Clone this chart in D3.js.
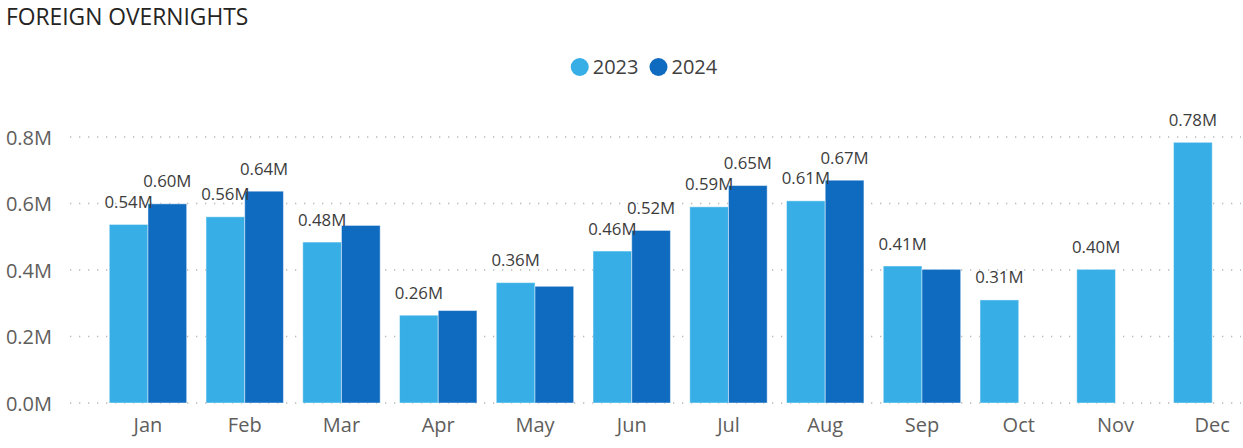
<!DOCTYPE html>
<html>
<head>
<meta charset="utf-8">
<script src="https://cdn.jsdelivr.net/npm/d3@7"></script>
<style>
  html, body { margin: 0; padding: 0; background: #fff; }
  svg { display: block; font-family: "Segoe UI", "Open Sans", sans-serif; }
</style>
</head>
<body>
<svg id="chart" width="1243" height="448"></svg>
<script>
const months = ["Jan","Feb","Mar","Apr","May","Jun","Jul","Aug","Sep","Oct","Nov","Dec"];
const seriesNames = ["2023","2024"];
const values2023 = [0.537, 0.560, 0.484, 0.264, 0.362, 0.457, 0.590, 0.608, 0.412, 0.310, 0.402, 0.784];
const values2024 = [0.599, 0.637, 0.534, 0.278, 0.351, 0.519, 0.654, 0.670, 0.402, null, null, null];
const yTicks = [0, 0.2, 0.4, 0.6, 0.8];
const colors = ["#37AFE6", "#0F6BC0"];

const svg = d3.select("#chart");
const fmt = v => v.toFixed(2) + "M";

const x = d3.scaleBand().domain(months).range([99.6, 1260.6]).paddingInner(0.2).paddingOuter(0.1);
const xs = d3.scaleBand().domain(seriesNames).range([0, x.bandwidth()]);
const y = d3.scaleLinear().domain([0, 0.8]).range([403, 137]);

// Title
svg.append("text").attr("x", 6).attr("y", 25)
  .attr("font-size", 22.8).attr("fill", "#252423").text("FOREIGN OVERNIGHTS");

// Legend
const legend = svg.append("g");
let lx = 0;
seriesNames.forEach((s, i) => {
  const g = legend.append("g").attr("transform", `translate(${lx},0)`);
  g.append("circle").attr("cx", 9).attr("cy", 67).attr("r", 9).attr("fill", colors[i]);
  const t = g.append("text").attr("x", 22).attr("y", 74).attr("font-size", 20).attr("fill", "#404040").text(s);
  lx += 22 + t.node().getComputedTextLength() + 11;
});
const legendW = lx - 11;
legend.attr("transform", `translate(${644 - legendW / 2},0)`);

// Gridlines
svg.append("g").selectAll("line").data(yTicks).join("line")
  .attr("x1", 70).attr("x2", 1241)
  .attr("y1", d => y(d)).attr("y2", d => y(d))
  .attr("stroke", "#B8B8B8").attr("stroke-width", 1.3)
  .attr("stroke-dasharray", "1.3,7.7");

// Y axis labels
const yAxis = d3.axisLeft(y).tickValues(yTicks).tickFormat(d => d.toFixed(1) + "M").tickSize(0).tickPadding(0);
const yg = svg.append("g").attr("transform", "translate(52,0)").call(yAxis);
yg.select(".domain").remove();
yg.selectAll("text").attr("font-size", 20).attr("fill", "#605E5C")
  .attr("font-family", "'Segoe UI', 'Open Sans', sans-serif").attr("dy", "0.36em");

// X axis labels
const xAxis = d3.axisBottom(x).tickSize(0).tickPadding(0);
const xg = svg.append("g").attr("transform", "translate(0,412)").call(xAxis);
xg.select(".domain").remove();
xg.selectAll("text").attr("font-size", 20).attr("fill", "#605E5C")
  .attr("font-family", "'Segoe UI', 'Open Sans', sans-serif").attr("dy", "0.99em");

// Bars
const data = [];
months.forEach((m, i) => {
  [values2023[i], values2024[i]].forEach((v, j) => {
    if (v !== null) data.push({ month: m, series: seriesNames[j], value: v, si: j });
  });
});

svg.append("g").selectAll("rect").data(data).join("rect")
  .attr("x", d => x(d.month) + xs(d.series))
  .attr("width", xs.bandwidth())
  .attr("y", d => y(d.value))
  .attr("height", d => y(0) - y(d.value))
  .attr("fill", d => colors[d.si])
  .attr("stroke", "rgba(255,255,255,0.45)")
  .attr("stroke-width", 1);

// Data labels with simple collision hiding
const placed = [];
const lblG = svg.append("g");
const ordered = data.slice().sort((a, b) => a.si - b.si);
ordered.forEach(d => {
  const cx = x(d.month) + xs(d.series) + xs.bandwidth() / 2;
  const by = y(d.value) - 16.5;
  const t = lblG.append("text").attr("x", cx).attr("y", by)
    .attr("text-anchor", "middle").attr("font-size", 16.8).attr("fill", "#3C3C3C")
    .text(fmt(d.value));
  const w = t.node().getComputedTextLength();
  const box = { x0: cx - w / 2, x1: cx + w / 2, y0: by - 18, y1: by };
  const hit = placed.some(p => box.x0 < p.x1 && box.x1 > p.x0 && box.y0 < p.y1 && box.y1 > p.y0);
  if (hit) t.remove(); else placed.push(box);
});
</script>
</body>
</html>
